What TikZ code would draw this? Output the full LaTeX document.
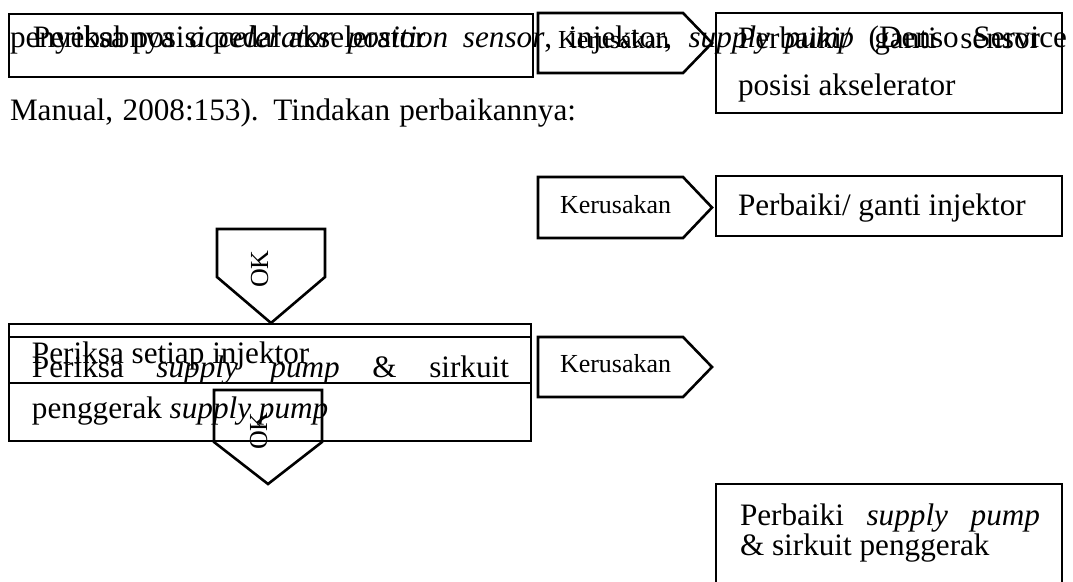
\documentclass[tikz,border=0pt]{standalone}
\usepackage{fontspec}
\setmainfont{Liberation Serif}
\newlength{\pxu}\setlength{\pxu}{0.3846pt}
\begin{document}
\begin{tikzpicture}[x=0.3846pt,y=-0.3846pt,
  frame/.style={draw=black,line width=1pt,line join=miter},
  txt/.style={inner sep=0pt,outer sep=0pt,anchor=base west,font=\fontsize{12}{14}\selectfont},
  small/.style={inner sep=0pt,outer sep=0pt,anchor=base west,font=\fontsize{10}{12}\selectfont},
  oklabel/.style={inner sep=0pt,outer sep=0pt,anchor=base,rotate=90,font=\fontsize{10}{12}\selectfont}]
\useasboundingbox[fill=white] (0,0) rectangle (1073,581);

% running paragraph text behind the chart
\node[txt] (body1) at (10,47) {\makebox[1057\pxu][s]{penyebabnya \textit{accelerator position sensor}, injektor, \textit{supply pump} (Denso Service}};
\node[txt] (body2) at (10,120) {\makebox[566\pxu][s]{Manual, 2008:153). Tindakan perbaikannya:}};

% row 1: accelerator position check
\draw[frame] (9,14) rectangle (533,77);
\node[txt] (cekpedal) at (33,47) {Periksa posisi pedal akselerator};
\draw[frame] (538,13) -- (683,13) -- (712,43) -- (683,73) -- (538,73) -- cycle;
\node[small] (rusak1) at (558,48) {Kerusakan};
\draw[frame] (716,13) rectangle (1062,113);
\node[txt] (fixsensor1) at (738,48) {\makebox[302\pxu][s]{Perbaiki/ ganti sensor}};
\node[txt] (fixsensor2) at (738,95) {posisi akselerator};

% row 2: injector repair
\draw[frame] (538,177) -- (683,177) -- (712,207.5) -- (683,238) -- (538,238) -- cycle;
\node[small] (rusak2) at (560,213) {Kerusakan};
\draw[frame] (716,176) rectangle (1062,236);
\node[txt] (fixinj) at (738,215) {Perbaiki/ ganti injektor};

% OK arrow down into the injector check
\draw[frame] (217,229) -- (325,229) -- (325,277) -- (271,323) -- (217,277) -- cycle;
\node[oklabel] (ok1) at (268,269) {OK};

% row 3: injector and supply pump checks
\draw[frame] (9,324) rectangle (531,441);
\draw[frame] (9,337) rectangle (531,383);
\node[txt] (cekinj) at (32,363) {Periksa setiap injektor};
\node[txt] (cekpump1) at (32,377) {\makebox[477\pxu][s]{Periksa \textit{supply pump} \& sirkuit}};
\node[txt] (cekpump2) at (32,418) {penggerak \textit{supply pump}};
\draw[frame] (538,337) -- (683,337) -- (712,367) -- (683,397) -- (538,397) -- cycle;
\node[small] (rusak3) at (560,372) {Kerusakan};

% OK arrow below the checks
\draw[frame] (214,390) -- (322,390) -- (322,442) -- (268,484) -- (214,442) -- cycle;
\node[oklabel] (ok2) at (267,431) {OK};

% supply pump repair box (runs past the lower edge)
\draw[frame] (716,484) rectangle (1062,600);
\node[txt] (fixpump1) at (740,525) {\makebox[300\pxu][s]{Perbaiki \textit{supply pump}}};
\node[txt] (fixpump2) at (740,555) {\& sirkuit penggerak};
\end{tikzpicture}
\end{document}
